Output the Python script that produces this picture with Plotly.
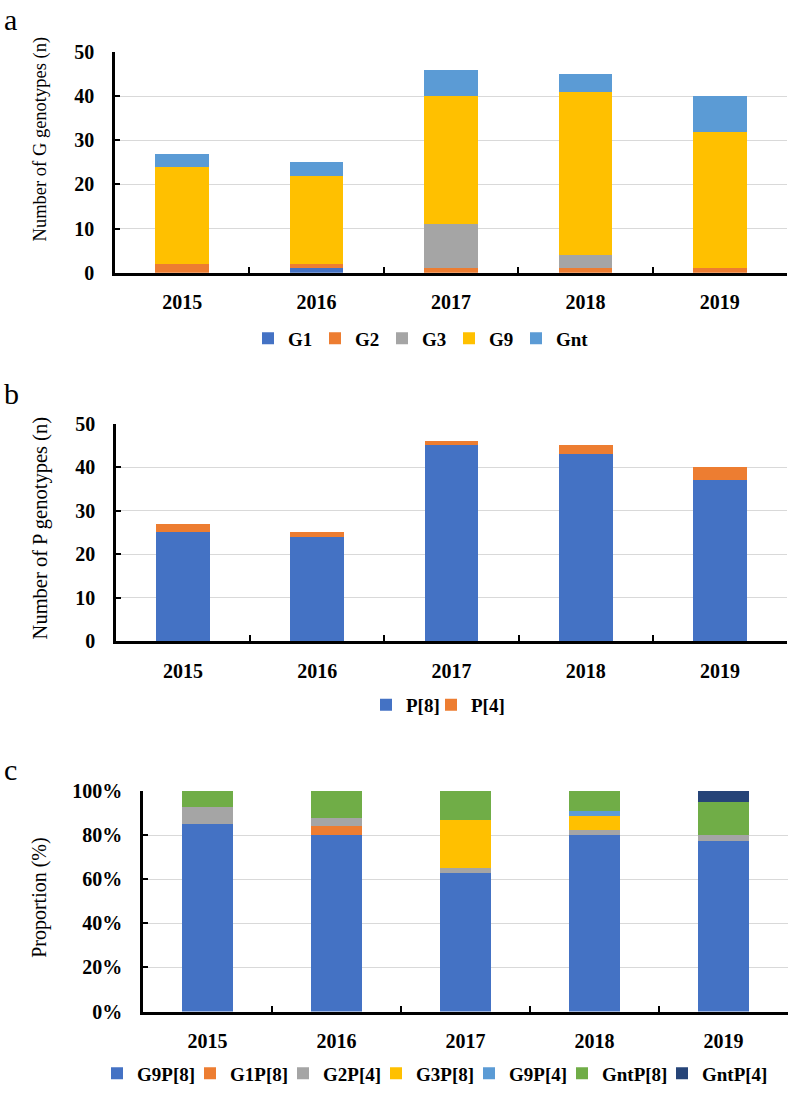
import plotly.graph_objects as go

W, H = 789, 1098

years = ["2015", "2016", "2017", "2018", "2019"]

# Panel a: number of G genotypes (n)
g_names = ["G1", "G2", "G3", "G9", "Gnt"]
g1 = [0, 1, 0, 0, 0]
g2 = [2, 1, 1, 1, 1]
g3 = [0, 0, 10, 3, 0]
g9 = [22, 20, 29, 37, 31]
gnt = [3, 3, 6, 4, 8]
g_colors = ["#4472C4", "#ED7D31", "#A5A5A5", "#FFC000", "#5B9BD5"]

# Panel b: number of P genotypes (n)
p_names = ["P[8]", "P[4]"]
p8 = [25, 24, 45, 43, 37]
p4 = [2, 1, 1, 2, 3]
p_colors = ["#4472C4", "#ED7D31"]

# Panel c: proportion (%)
c_names = ["G9P[8]", "G1P[8]", "G2P[4]", "G3P[8]", "G9P[4]", "GntP[8]", "GntP[4]"]
g9p8 = [85.2, 80.0, 63.0, 80.0, 77.5]
g1p8 = [0.0, 4.0, 0.0, 0.0, 0.0]
g2p4 = [7.4, 4.0, 2.2, 2.2, 2.5]
g3p8 = [0.0, 0.0, 21.7, 6.7, 0.0]
g9p4 = [0.0, 0.0, 0.0, 2.2, 0.0]
gntp8 = [7.4, 12.0, 13.1, 8.9, 15.0]
gntp4 = [0.0, 0.0, 0.0, 0.0, 5.0]
c_colors = ["#4472C4", "#ED7D31", "#A5A5A5", "#FFC000", "#5B9BD5", "#70AD47", "#264478"]

FONT = "Liberation Serif"
LEG_SIZE = 19

def px_x(x):
    return x / W

def px_y(y):
    return (H - y) / H

fig = go.Figure()

for name, vals, col in zip(g_names, [g1, g2, g3, g9, gnt], g_colors):
    fig.add_trace(go.Bar(x=years, y=vals, name=name, marker=dict(color=col, line=dict(width=0)),
                         xaxis="x", yaxis="y", legend="legend",
                         legendwidth=(22 if name != "Gnt" else None)))
for name, vals, col in zip(p_names, [p8, p4], p_colors):
    fig.add_trace(go.Bar(x=years, y=vals, name=name, marker=dict(color=col, line=dict(width=0)),
                         xaxis="x2", yaxis="y2", legend="legend2",
                         legendwidth=(20 if name == "P[8]" else None)))
for name, vals, col in zip(c_names, [g9p8, g1p8, g2p4, g3p8, g9p4, gntp8, gntp4], c_colors):
    lw = 55 if name.startswith("Gnt") else 48
    if name == "GntP[4]":
        lw = None
    fig.add_trace(go.Bar(x=years, y=vals, name=name, marker=dict(color=col, line=dict(width=0)),
                         xaxis="x3", yaxis="y3", legend="legend3", legendwidth=lw))

panels = [
    ("xaxis", "yaxis", 115, 787, 42, 267, [0, 50], ""),
    ("xaxis2", "yaxis2", 116, 787, 421, 643, [0, 50], ""),
    ("xaxis3", "yaxis3", 143, 788, 796, 1021, [0, 100], "%"),
]

layout = dict(
    width=W, height=H,
    margin=dict(l=0, r=0, t=0, b=0),
    paper_bgcolor="white", plot_bgcolor="white",
    barmode="stack", bargap=0.6,
    font=dict(family=FONT, color="black"),
)

for i, (xk, yk, x0, x1, yt, yb, rng, suf) in enumerate(panels):
    anchor_y = "y" if i == 0 else f"y{i+1}"
    anchor_x = "x" if i == 0 else f"x{i+1}"
    layout[xk] = dict(
        domain=[px_x(x0), px_x(x1)], anchor=anchor_y,
        type="category", showline=True, linecolor="black", linewidth=2.5,
        ticks="inside", tickson="boundaries", ticklen=6, tickwidth=2, tickcolor="black",
        tickfont=dict(family=FONT, size=20, weight="bold", color="black"),
        ticklabelstandoff=10, showgrid=False, zeroline=False,
    )
    layout[yk] = dict(
        domain=[px_y(yb), px_y(yt)], anchor=anchor_x,
        range=rng, dtick=rng[1] / 5, ticksuffix=suf,
        showline=True, linecolor="black", linewidth=2.5,
        ticks="inside", ticklen=5, tickwidth=2, tickcolor="black",
        tickfont=dict(family=FONT, size=20, weight="bold", color="black"),
        ticklabelstandoff=14,
        showgrid=True, gridcolor="#D9D9D9", gridwidth=1.2, zeroline=False,
    )

legend_common = dict(
    orientation="h", xanchor="center", yanchor="middle", traceorder="normal",
    font=dict(family=FONT, size=LEG_SIZE, weight="bold", color="black"),
    bgcolor="rgba(0,0,0,0)", itemwidth=30, tracegroupgap=0,
)
layout["legend"] = dict(legend_common, x=px_x(421), y=px_y(334))
layout["legend2"] = dict(legend_common, x=px_x(438), y=px_y(708))
layout["legend3"] = dict(legend_common, x=px_x(435), y=px_y(1084))

annotations = []
for letter, ymid in [("a", 8.5), ("b", 390.5), ("c", 773.5)]:
    annotations.append(dict(text=letter, xref="paper", yref="paper", x=px_x(2), y=px_y(ymid),
                            xanchor="left", yanchor="middle", showarrow=False,
                            font=dict(family=FONT, size=30, color="black")))
for title, ymid, size in [("Number of G genotypes (n)", 131, 18.5),
                          ("Number of P genotypes (n)", 528, 20.5),
                          ("Proportion (%)", 905, 20)]:
    annotations.append(dict(text=title, xref="paper", yref="paper", x=px_x(40), y=px_y(ymid),
                            xanchor="center", yanchor="middle", textangle=-90, showarrow=False,
                            font=dict(family=FONT, size=size, color="black")))
layout["annotations"] = annotations

fig.update_layout(**layout)
fig.write_html(
    "out.html",
    config={"displayModeBar": False},
    post_script="document.body.style.margin='0';document.body.style.overflow='hidden';",
)
